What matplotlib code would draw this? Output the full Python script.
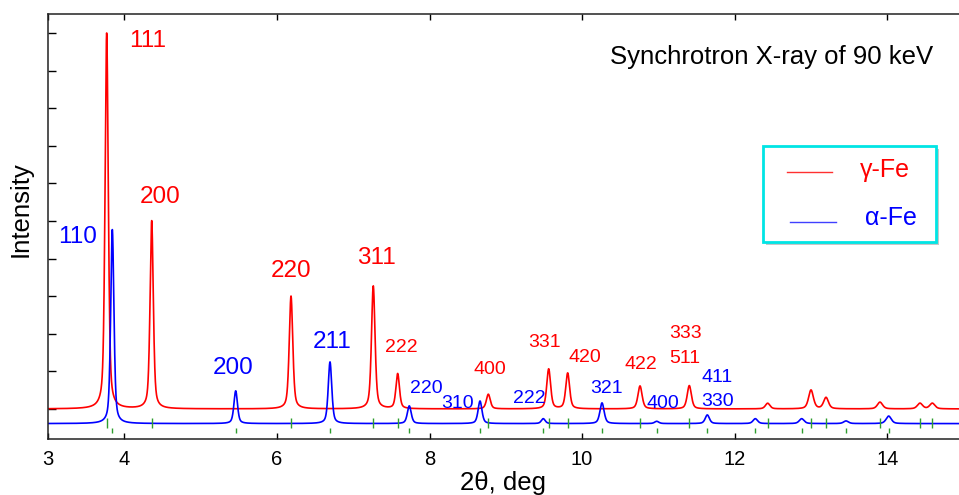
"""Synchrotron XRD pattern of a two-phase Fe sample (gamma-Fe + alpha-Fe)."""

import matplotlib

matplotlib.use("Agg")
import matplotlib.pyplot as plt
import numpy as np
from matplotlib.patches import Rectangle

plt.rcParams["font.family"] = ["Liberation Sans", "DejaVu Sans"]

# --- peak lists (2theta in deg, intensity in tick units) ---
gamma_pos = [3.769, 4.359, 6.185, 7.263, 7.583, 8.771, 9.562, 9.811, 10.759,
             11.405, 12.432, 13.000, 13.197, 13.904, 14.428, 14.590]
gamma_int = [10.0, 5.0, 3.0, 3.27, 0.93, 0.39, 1.06, 0.95, 0.61,
             0.62, 0.15, 0.50, 0.30, 0.18, 0.15, 0.15]
gamma_fwhm = [0.050, 0.050, 0.055, 0.055, 0.055, 0.060, 0.060, 0.060, 0.065,
              0.065, 0.070, 0.075, 0.075, 0.080, 0.080, 0.080]

alpha_pos = [3.843, 5.460, 6.696, 7.735, 8.662, 9.491, 10.261, 10.978,
             11.641, 12.270, 12.878, 13.459, 14.018]
alpha_int = [5.16, 0.87, 1.64, 0.47, 0.60, 0.13, 0.55, 0.06,
             0.23, 0.13, 0.13, 0.07, 0.20]
alpha_fwhm = [0.050, 0.055, 0.055, 0.060, 0.060, 0.060, 0.065, 0.065,
              0.065, 0.070, 0.075, 0.075, 0.080]

gamma_offset = 0.0
alpha_offset = -0.39

# hkl labels: text, x, baseline y, size
gamma_labels = ["111", "200", "220", "311", "222", "400", "331", "420", "422", "333", "511"]
gamma_label_x = [4.304, 4.468, 6.185, 7.305, 7.626, 8.793, 9.507, 10.038, 10.772, 11.362, 11.349]
gamma_label_y = [9.636, 5.487, 3.519, 3.856, 1.524, 0.931, 1.657, 1.258, 1.056, 1.879, 1.232]
gamma_label_big = [True, True, True, True, False, False, False, False, False, False, False]

alpha_labels = ["110", "200", "211", "220", "310", "222", "321", "400", "411", "330"]
alpha_label_x = [3.393, 5.425, 6.722, 7.954, 8.373, 9.304, 10.320, 11.060, 11.775, 11.775]
alpha_label_y = [4.406, 0.931, 1.614, 0.418, 0.019, 0.152, 0.418, 0.019, 0.726, 0.080]
alpha_label_big = [True, True, True, False, False, False, False, False, False, False]

x_ticks = [3, 4, 6, 8, 10, 12, 14]

RED = "#ff0000"
BLUE = "#0000ff"
GREEN = "#2e9e2e"
W, H = 959, 495


def pseudo_voigt(x, pos, amp, fwhm, eta=0.5):
    y = np.zeros_like(x)
    for p, a, w in zip(pos, amp, fwhm):
        hw = w / 2
        lor = hw**2 / ((x - p) ** 2 + hw**2)
        gau = np.exp(-np.log(2) * ((x - p) / hw) ** 2)
        y += a * (eta * lor + (1 - eta) * gau)
    return y


def ax_frac(px, py):
    # pixel position in the 959x495 picture -> axes fraction
    return (px - 48) / 911, (439 - py) / 425


def main():
    fig = plt.figure(figsize=(W / 100, H / 100), dpi=100)
    ax = fig.add_axes([48 / W, (H - 439) / H, 911 / W, 425 / H])

    two_theta = np.linspace(3.0, 15.0, 8000)
    ax.plot(two_theta, gamma_offset + pseudo_voigt(two_theta, gamma_pos, gamma_int, gamma_fwhm),
            color=RED, lw=1.2)
    ax.plot(two_theta, alpha_offset + pseudo_voigt(two_theta, alpha_pos, alpha_int, alpha_fwhm),
            color=BLUE, lw=1.2)

    # reflection markers
    ax.vlines(gamma_pos, -0.50, -0.25, color=GREEN, lw=1.0)
    ax.vlines(alpha_pos, -0.65, -0.52, color=GREEN, lw=1.0)

    for txt, x, y, big in zip(gamma_labels, gamma_label_x, gamma_label_y, gamma_label_big):
        ax.text(x, y, txt, color=RED, fontsize=17.5 if big else 14, ha="center", va="baseline")
    for txt, x, y, big in zip(alpha_labels, alpha_label_x, alpha_label_y, alpha_label_big):
        ax.text(x, y, txt, color=BLUE, fontsize=17.5 if big else 14, ha="center", va="baseline")

    ax.set_xlim(3.0, 3.0 + 911 / 76.3)
    ax.set_ylim(-0.80, 10.505)
    ax.set_xticks(x_ticks)
    ax.set_xticklabels([str(t) for t in x_ticks])
    ax.set_yticks(range(0, 11))
    ax.set_yticklabels([])
    ax.tick_params(axis="x", direction="in", length=4, width=1.0, top=True, pad=8, labelsize=14.5)
    ax.tick_params(axis="y", direction="in", length=6, width=1.0)
    ax.spines["right"].set_visible(False)
    for side in ("left", "bottom", "top"):
        ax.spines[side].set_linewidth(1.1)
        ax.spines[side].set_color("#222222")

    ax.set_xlabel("2θ, deg", fontsize=18.5, va="baseline")
    ax.xaxis.set_label_coords(0.5, ax_frac(0, 490)[1])
    ax.set_ylabel("Intensity", fontsize=18.5, va="center")
    ax.yaxis.set_label_coords(ax_frac(21, 0)[0], ax_frac(0, 209)[1])

    tx, ty = ax_frac(610, 64.3)
    ax.text(tx, ty, "Synchrotron X-ray of 90 keV", transform=ax.transAxes,
            fontsize=18.5, ha="left", va="baseline", color="black")

    # hand-made legend box with drop shadow
    x0, y0 = ax_frac(763.3, 241.7)
    x1, y1 = ax_frac(935.7, 145.7)
    sx, sy = 3 / 911, -3 / 425
    ax.add_patch(Rectangle((x0 + sx, y0 + sy), x1 - x0, y1 - y0, transform=ax.transAxes,
                           facecolor="#b0b0b0", edgecolor="none", alpha=0.7, zorder=4))
    ax.add_patch(Rectangle((x0, y0), x1 - x0, y1 - y0, transform=ax.transAxes,
                           facecolor="white", edgecolor="#00e5e5", lw=2.0, zorder=5))
    lx0, ly = ax_frac(786.7, 172.3)
    lx1, _ = ax_frac(831.7, 172.3)
    ax.plot([lx0, lx1], [ly, ly], color="#ff3030", lw=1.0, transform=ax.transAxes, zorder=6)
    lx0, ly = ax_frac(790, 221.7)
    lx1, _ = ax_frac(835.7, 221.7)
    ax.plot([lx0, lx1], [ly, ly], color="#4040ff", lw=1.0, transform=ax.transAxes, zorder=6)
    gx, gy = ax_frac(860, 170)
    ax.text(gx, gy, "γ-Fe", color=RED, fontsize=18, ha="left", va="center",
            transform=ax.transAxes, zorder=6)
    axx, ayy = ax_frac(865, 218)
    ax.text(axx, ayy, "α-Fe", color=BLUE, fontsize=18, ha="left", va="center",
            transform=ax.transAxes, zorder=6)

    fig.savefig("out.png", dpi=100)
    plt.close(fig)


if __name__ == "__main__":
    main()
